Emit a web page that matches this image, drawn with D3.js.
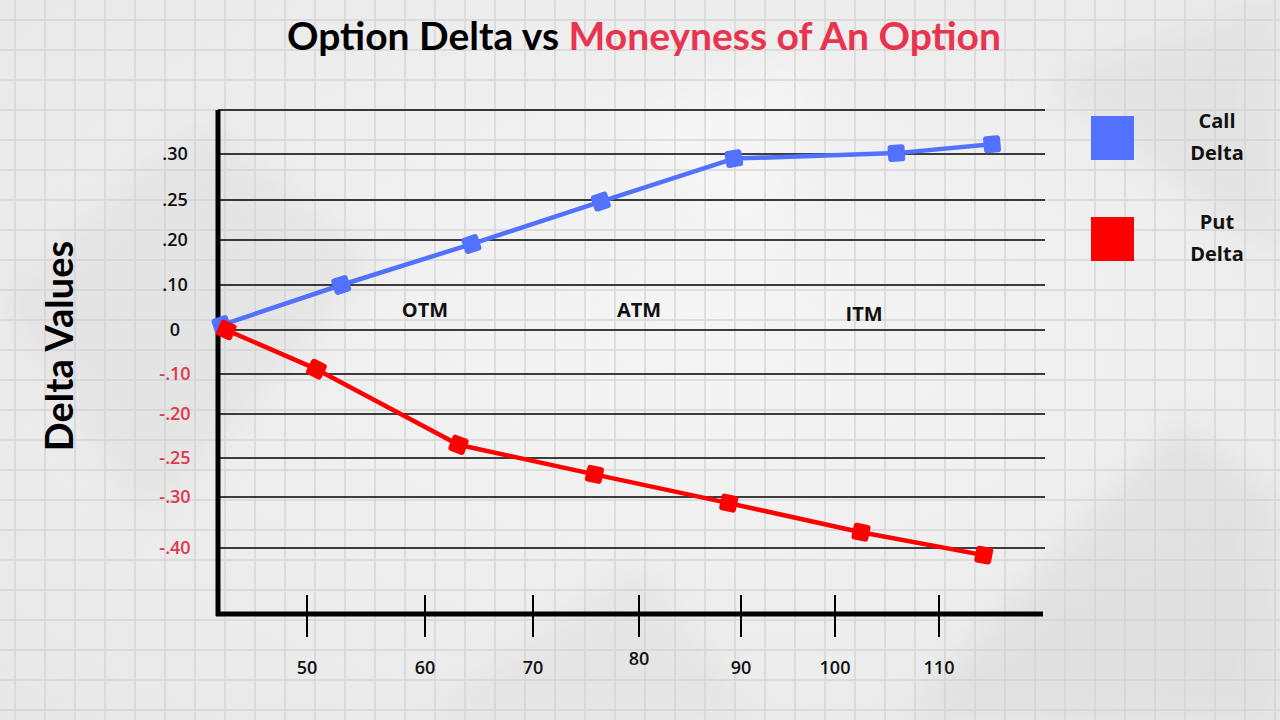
<!DOCTYPE html>
<html><head><meta charset="utf-8">
<script src="https://cdn.jsdelivr.net/npm/d3@7"></script>
<style>html,body{margin:0;padding:0;background:#eee;} svg{display:block}</style>
</head><body><svg id="chart" width="1280" height="720"></svg>
<script>
// ---------- data ----------
const moneyness = [50, 60, 70, 80, 90, 100, 110];
const xTickLabels = ["50", "60", "70", "80", "90", "100", "110"];
const deltaTicks = [0.30, 0.25, 0.20, 0.10, 0, -0.10, -0.20, -0.25, -0.30, -0.40];
const deltaTickLabels = [".30", ".25", ".20", ".10", "0", "-.10", "-.20", "-.25", "-.30", "-.40"];
const callMoneyness = [42.8, 52.9, 64.3, 76.4, 89.3, 105.9, 115.1];
const callDelta = [0.011, 0.10, 0.191, 0.248, 0.295, 0.301, 0.311];
const putMoneyness = [43.2, 50.8, 63.1, 75.8, 88.8, 102.5, 114.3];
const putDelta = [0.0, -0.089, -0.235, -0.271, -0.312, -0.369, -0.414];
const zoneLabels = ["OTM", "ATM", "ITM"];
const zoneMoneyness = [60.0, 80.0, 102.8];
const zoneDelta = [0.045, 0.045, 0.036];
const legendLabels = [["Call", "Delta"], ["Put", "Delta"]];

// ---------- styles ----------
const BLUE = "#5271ff", RED = "#ff0000", TITLE_RED = "#e8344e", NEG_RED = "#df3a4f";
const W = 1280, H = 720;
const svg = d3.select("#chart");

// ---------- background: graph paper ----------
const defs = svg.append("defs");
const rg = defs.append("radialGradient").attr("id", "bgGrad").attr("cx", "55%").attr("cy", "45%").attr("r", "75%");
rg.append("stop").attr("offset", "0%").attr("stop-color", "#f5f5f5");
rg.append("stop").attr("offset", "100%").attr("stop-color", "#e8e8e8");
svg.append("rect").attr("width", W).attr("height", H).attr("fill", "url(#bgGrad)");
const blur = defs.append("filter").attr("id", "soft").attr("x", "-20%").attr("y", "-20%").attr("width", "140%").attr("height", "140%");
blur.append("feGaussianBlur").attr("stdDeviation", 18);
const creases = svg.append("g").attr("filter", "url(#soft)").attr("opacity", 0.5);
creases.append("path").attr("d", "M0,300 L200,120 L380,260 L150,520 Z").attr("fill", "#dcdcdc");
creases.append("path").attr("d", "M900,720 L1180,420 L1280,500 L1280,720 Z").attr("fill", "#d6d6d6");
creases.append("path").attr("d", "M1040,80 L1280,0 L1280,260 Z").attr("fill", "#dadada");
creases.append("path").attr("d", "M420,720 L640,560 L760,720 Z").attr("fill", "#dedede");
creases.append("path").attr("d", "M600,120 L820,60 L760,260 Z").attr("fill", "#fafafa");
const paper = svg.append("g").attr("stroke", "#d2d2d2").attr("stroke-width", 1.4).attr("opacity", 0.85);
paper.selectAll("line.v").data(d3.range(15, W, 30)).join("line")
  .attr("x1", d => d).attr("x2", d => d).attr("y1", 0).attr("y2", H);
paper.selectAll("line.h").data(d3.range(20, H, 30)).join("line")
  .attr("y1", d => d).attr("y2", d => d).attr("x1", 0).attr("x2", W);

// ---------- scales (piecewise, as the hand-drawn axes are uneven) ----------
const x = d3.scaleLinear()
  .domain([42.5, ...moneyness, 120])
  .range([218, 307, 425, 533, 639, 741, 835, 939, 1043]);
const yDomain = [-0.53, -0.40, -0.30, -0.25, -0.20, -0.10, 0, 0.10, 0.20, 0.25, 0.30, 0.35];
const y = d3.scaleLinear()
  .domain(yDomain)
  .range([614, 548, 497, 458, 414, 374, 330, 285, 240, 200, 154, 110]);

// ---------- title ----------
const title = svg.append("text").attr("x", 644).attr("y", 50).attr("text-anchor", "middle")
  .attr("font-family", "Lato, 'Open Sans', sans-serif").attr("font-weight", 700).attr("font-size", 39);
title.append("tspan").attr("fill", "#000").text("Option Delta vs ");
title.append("tspan").attr("fill", TITLE_RED).text("Moneyness of An Option");

// ---------- gridlines ----------
const gridVals = [0.35, ...deltaTicks];
svg.append("g").selectAll("line").data(gridVals).join("line")
  .attr("x1", x(42.5)).attr("x2", 1045)
  .attr("y1", d => y(d)).attr("y2", d => y(d))
  .attr("stroke", "#000").attr("stroke-width", 1.6);

// ---------- axes lines ----------
svg.append("line").attr("x1", x(42.5)).attr("x2", x(42.5)).attr("y1", y(0.35)).attr("y2", y(-0.53) + 2)
  .attr("stroke", "#000").attr("stroke-width", 5);
svg.append("line").attr("x1", x(42.5) - 2).attr("x2", x(120)).attr("y1", y(-0.53)).attr("y2", y(-0.53))
  .attr("stroke", "#000").attr("stroke-width", 5);

// x ticks crossing the axis
const xt = svg.append("g");
xt.selectAll("line").data(moneyness).join("line")
  .attr("x1", d => x(d)).attr("x2", d => x(d))
  .attr("y1", y(-0.53) - 19).attr("y2", y(-0.53) + 23)
  .attr("stroke", "#000").attr("stroke-width", 2);
xt.selectAll("text").data(moneyness).join("text")
  .attr("x", d => x(d)).attr("y", (d, i) => i === 3 ? 665 : 674)
  .attr("text-anchor", "middle").attr("font-family", "'Open Sans', sans-serif")
  .attr("font-weight", 600).attr("font-size", 18).attr("fill", "#111")
  .text((d, i) => xTickLabels[i]);

// y tick labels
svg.append("g").selectAll("text").data(deltaTicks).join("text")
  .attr("x", 175).attr("y", d => y(d) + 6)
  .attr("text-anchor", "middle").attr("font-family", "'Open Sans', sans-serif")
  .attr("font-weight", 600).attr("font-size", 18)
  .attr("fill", d => d < 0 ? NEG_RED : "#111")
  .text((d, i) => deltaTickLabels[i]);

// y axis title
svg.append("text").attr("transform", "translate(73,346) rotate(-90)")
  .attr("text-anchor", "middle").attr("font-family", "Lato, 'Open Sans', sans-serif")
  .attr("font-weight", 700).attr("font-size", 38).attr("fill", "#000").text("Delta Values");

// zone labels
svg.append("g").selectAll("text").data(zoneLabels).join("text")
  .attr("x", (d, i) => x(zoneMoneyness[i])).attr("y", (d, i) => y(zoneDelta[i]) + 7)
  .attr("text-anchor", "middle").attr("font-family", "'Open Sans', sans-serif")
  .attr("font-weight", 700).attr("font-size", 20).attr("fill", "#111").text(d => d);

// ---------- series ----------
function drawSeries(xs, ys, color) {
  const pts = xs.map((v, i) => [x(v), y(ys[i])]);
  const g = svg.append("g");
  g.append("path").attr("d", d3.line()(pts)).attr("fill", "none")
    .attr("stroke", color).attr("stroke-width", 4.5).attr("stroke-linejoin", "round");
  g.selectAll("rect").data(pts).join("rect")
    .attr("x", -8.5).attr("y", -8.5).attr("width", 17).attr("height", 17).attr("rx", 3)
    .attr("fill", color)
    .attr("transform", (p, i) => {
      const a = pts[Math.max(0, i - 1)], b = pts[Math.min(pts.length - 1, i + 1)];
      const ang = Math.atan2(b[1] - a[1], b[0] - a[0]) * 180 / Math.PI;
      return `translate(${p[0]},${p[1]}) rotate(${ang})`;
    });
}
drawSeries(callMoneyness, callDelta, BLUE);
drawSeries(putMoneyness, putDelta, RED);

// ---------- legend ----------
const leg = svg.append("g");
const legColors = [BLUE, RED];
legendLabels.forEach((lab, i) => {
  const top = 116 + i * 101;
  leg.append("rect").attr("x", 1091).attr("y", top).attr("width", 43).attr("height", 44).attr("fill", legColors[i]);
  lab.forEach((t, j) => {
    leg.append("text").attr("x", 1217).attr("y", top + 12 + j * 32)
      .attr("text-anchor", "middle").attr("font-family", "'Open Sans', sans-serif")
      .attr("font-weight", 700).attr("font-size", 20).attr("fill", "#111").text(t);
  });
});
</script>
</body></html>
